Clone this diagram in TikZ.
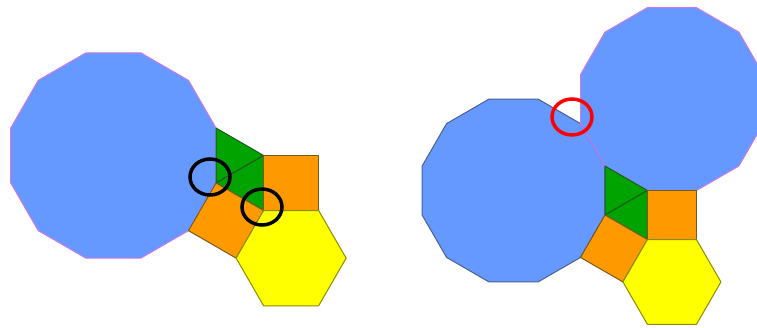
\documentclass[tikz,border=0pt]{standalone}
\usetikzlibrary{calc}
\definecolor{dblue}{HTML}{6699FF}
\definecolor{violetline}{HTML}{C879E8}
\definecolor{slateline}{HTML}{4A6090}
\definecolor{tgreen}{HTML}{00A300}
\definecolor{tgreenline}{HTML}{1F5A1F}
\definecolor{sorange}{HTML}{FF9900}
\definecolor{sorangeline}{HTML}{7A5A1A}
\definecolor{hyellow}{HTML}{FFFF00}
\definecolor{hyellowline}{HTML}{8C8C00}
\tikzset{
  dodeca/.style={fill=dblue, draw=violetline, line width=1pt, line join=miter},
  dodecadark/.style={fill=dblue, draw=slateline, line width=1pt, line join=miter},
  tri/.style={fill=tgreen, draw=tgreenline, line width=1pt, line join=round},
  sq/.style={fill=sorange, draw=sorangeline, line width=1pt, line join=round},
  hexa/.style={fill=hyellow, draw=hyellowline, line width=1pt, line join=round},
  ring/.style={draw=black, line width=3.5pt},
  redring/.style={draw=red, line width=3.5pt}
}
\begin{document}
\begin{tikzpicture}[x=1pt,y=-1pt]
\useasboundingbox (0,0) rectangle (757,327);
\fill[white] (0,0) rectangle (757,327);
\clip (0,0) rectangle (757,327);

% ---------- left figure (side 55) ----------
\coordinate (LO) at (113.37,155.5);
\coordinate (LA) at (216,128);
\coordinate (LB) at (216,183);
\coordinate (LC) at ($(LB)+(-30:55)$);
\coordinate (LD) at ($(LC)+(90:55)$);
\coordinate (LE) at ($(LC)+(0:55)$);
\coordinate (LF) at ($(LD)+(0:55)$);
\coordinate (LG) at ($(LB)+(120:55)$);
\coordinate (LH) at ($(LD)+(120:55)$);
\coordinate (LX) at ($(LD)!0.5!(LF)+(90:47.63)$);

\path[dodeca] ($(LO)+(15:106.25)$) \foreach \k in {1,...,11} { -- ($(LO)+(15+30*\k:106.25)$) } -- cycle;
\path[tri] (LA) -- (LC) -- (LB) -- cycle;
\path[tri] (LB) -- (LC) -- (LD) -- cycle;
\path[sq] (LC) -- (LE) -- (LF) -- (LD) -- cycle;
\path[sq] (LB) -- (LD) -- (LH) -- (LG) -- cycle;
\path[hexa] ($(LX)+(0:55)$) \foreach \k in {1,...,5} { -- ($(LX)+(60*\k:55)$) } -- cycle;

\draw[ring] (210,177) ellipse [x radius=20, y radius=18];
\draw[ring] (262,207) ellipse [x radius=20, y radius=18];

% ---------- right figure (side 49) ----------
\coordinate (RO) at (513.55,190.5);
\coordinate (RA) at (605,166);
\coordinate (RB) at (605,215);
\coordinate (RC) at ($(RB)+(-30:49)$);
\coordinate (RD) at ($(RC)+(90:49)$);
\coordinate (RE) at ($(RC)+(0:49)$);
\coordinate (RF) at ($(RD)+(0:49)$);
\coordinate (RG) at ($(RB)+(120:49)$);
\coordinate (RH) at ($(RD)+(120:49)$);
\coordinate (RX) at ($(RD)!0.5!(RF)+(90:42.44)$);
\coordinate (RU) at ($(RC)!0.5!(RE)+(-90:91.45)$);

\path[dodecadark] ($(RO)+(15:94.66)$) \foreach \k in {1,...,11} { -- ($(RO)+(15+30*\k:94.66)$) } -- cycle;
\path[dodeca] ($(RU)+(15:94.66)$) \foreach \k in {1,...,11} { -- ($(RU)+(15+30*\k:94.66)$) } -- cycle;
\path[tri] (RA) -- (RC) -- (RB) -- cycle;
\path[tri] (RB) -- (RC) -- (RD) -- cycle;
\path[sq] (RC) -- (RE) -- (RF) -- (RD) -- cycle;
\path[sq] (RB) -- (RD) -- (RH) -- (RG) -- cycle;
\path[hexa] ($(RX)+(0:49)$) \foreach \k in {1,...,5} { -- ($(RX)+(60*\k:49)$) } -- cycle;

\draw[redring] (572,117) ellipse [x radius=20, y radius=18];
\end{tikzpicture}
\end{document}
